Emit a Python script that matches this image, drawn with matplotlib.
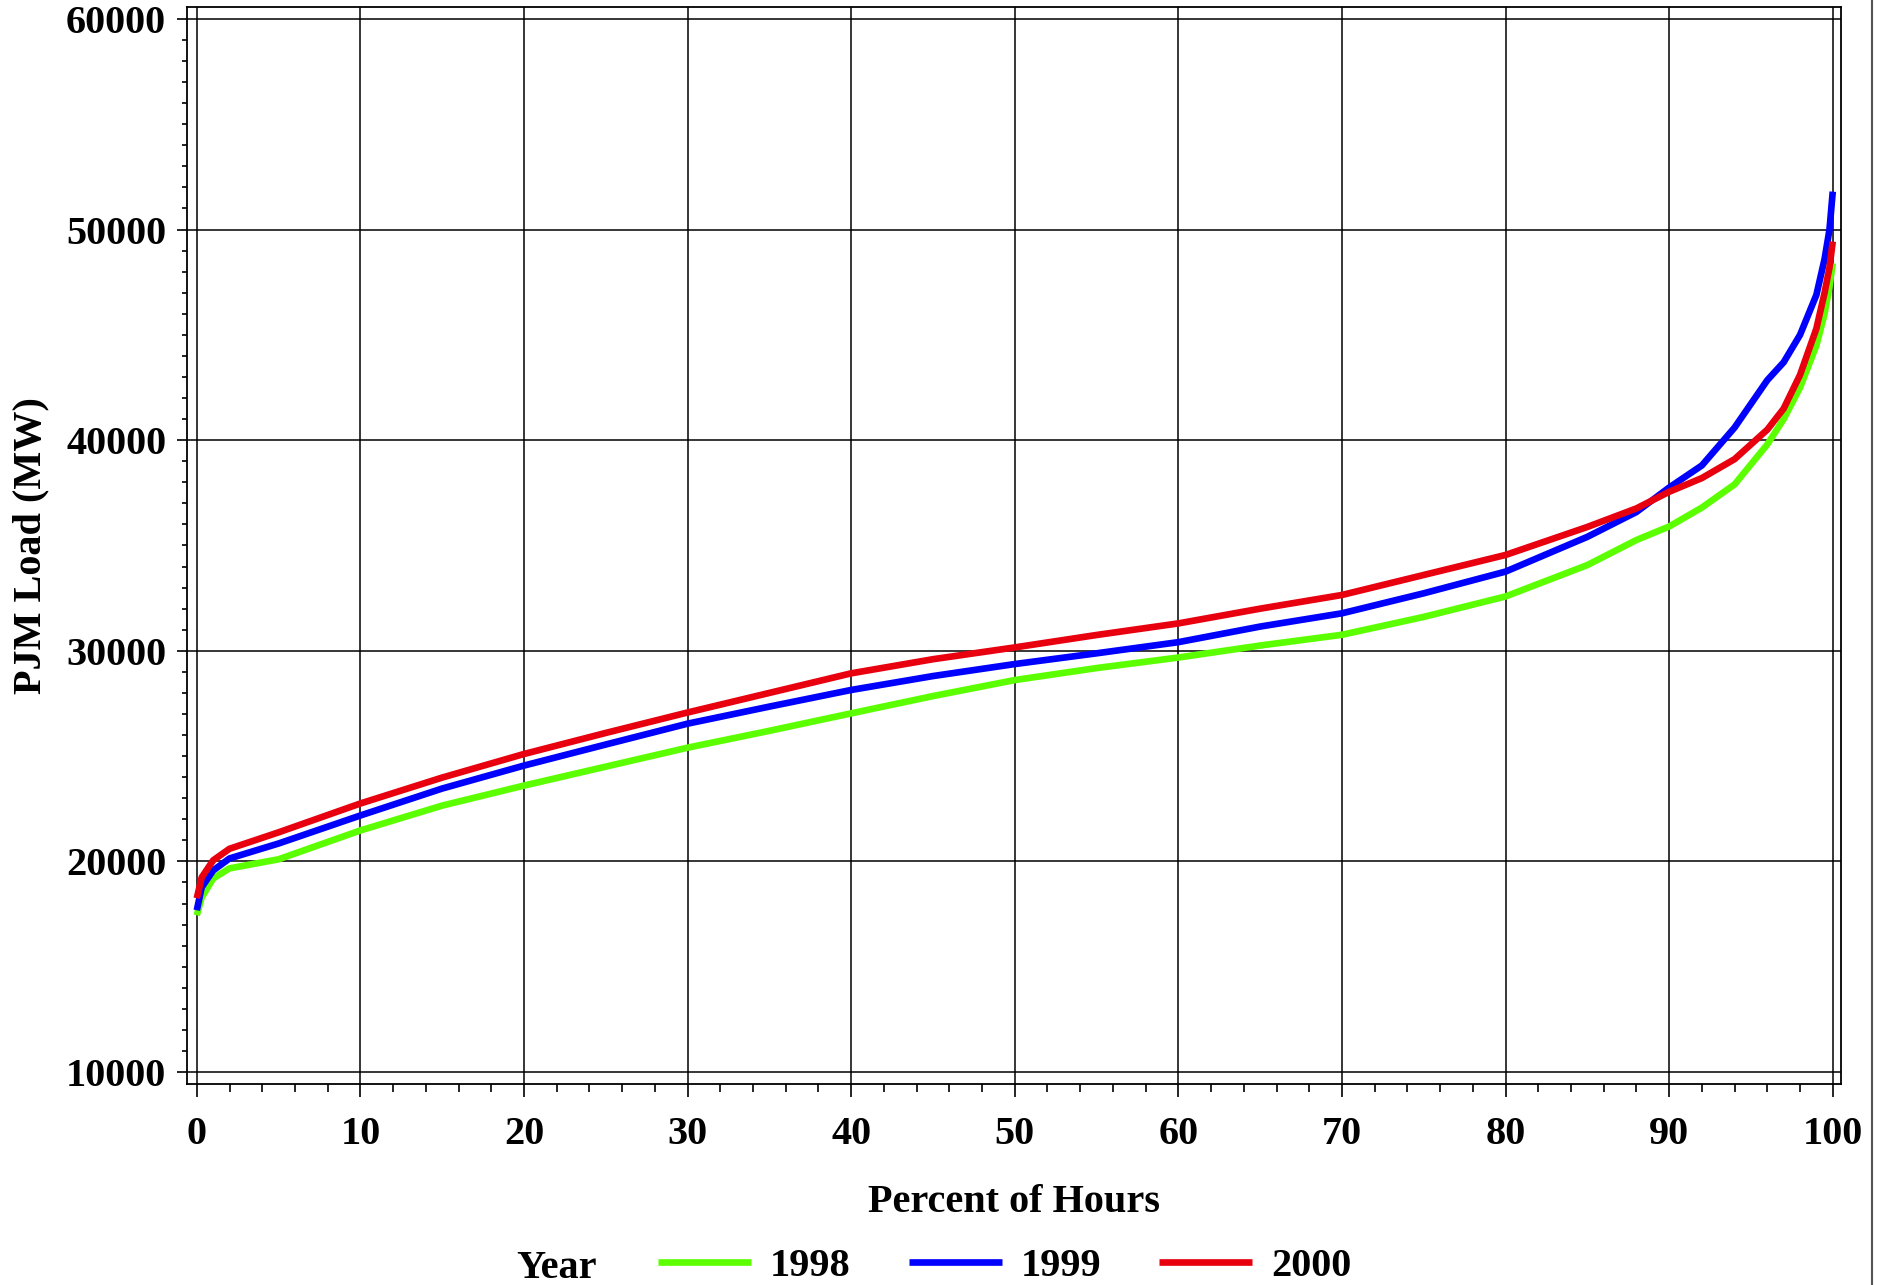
import numpy as np
import matplotlib
matplotlib.use("Agg")
import matplotlib.pyplot as plt
from matplotlib.lines import Line2D

# --- Data ---
pct = [0, 0.3, 1, 2, 5, 10, 15, 20, 25, 30, 35, 40, 45, 50, 55, 60, 65, 70,
       75, 80, 85, 88, 90, 92, 94, 96, 97, 98, 99, 99.5, 99.8, 100]

load_1998 = [17440, 18290, 19190, 19670, 20100, 21470, 22650, 23600, 24500,
             25400, 26200, 27030, 27850, 28610, 29180, 29680, 30250, 30760,
             31610, 32580, 34070, 35260, 35900, 36800, 37900, 39800, 41000,
             42500, 44500, 46000, 47300, 48400]
load_1999 = [17680, 18770, 19570, 20140, 20850, 22180, 23460, 24550, 25550,
             26540, 27350, 28140, 28800, 29370, 29880, 30410, 31150, 31780,
             32730, 33760, 35410, 36590, 37750, 38800, 40600, 42850, 43700,
             45000, 46900, 48600, 50000, 51800]
load_2000 = [18250, 19240, 20050, 20600, 21380, 22750, 23980, 25100, 26100,
             27070, 28000, 28930, 29600, 30160, 30750, 31300, 32000, 32650,
             33600, 34550, 35880, 36760, 37550, 38200, 39100, 40500, 41500,
             43100, 45300, 47000, 48200, 49430]

years = ["1998", "1999", "2000"]
colors = ["#5cff00", "#0000ff", "#e8000f"]

x_ticks = np.arange(0, 101, 10)
y_ticks = np.arange(10000, 60001, 10000)

# --- Stil ---
plt.rcParams["font.family"] = ["Liberation Serif", "DejaVu Serif"]
plt.rcParams["font.weight"] = "bold"
fs = 29

fig = plt.figure(figsize=(18.81, 12.85), dpi=100)
ax = fig.add_axes([0.0994, 0.1564, 0.8793, 0.8382])

for y, c, yr in zip([load_1998, load_1999, load_2000], colors, years):
    ax.plot(pct, y, color=c, lw=4.8, label=yr, solid_capstyle="butt")

ax.set_xlim(-0.6, 100.5)
ax.set_ylim(9430, 60570)
ax.set_xticks(x_ticks)
ax.set_yticks(y_ticks)
ax.set_xticks(np.arange(0, 101, 2), minor=True)
ax.set_yticks(np.arange(10000, 60001, 1000), minor=True)
ax.tick_params(axis="both", which="major", labelsize=fs, width=1.2, color="black")
ax.tick_params(axis="x", which="major", length=9, pad=14)
ax.tick_params(axis="y", which="major", length=7, pad=8)
ax.tick_params(axis="x", which="minor", length=6, width=1.2)
ax.tick_params(axis="y", which="minor", length=3.6, width=1.2)
for lab in ax.get_xticklabels() + ax.get_yticklabels():
    lab.set_fontweight("bold")

ax.grid(True, which="major", color="black", lw=1.1)
ax.set_axisbelow(True)
for sp in ax.spines.values():
    sp.set_linewidth(1.3)

ax.set_xlabel("Percent of Hours", fontsize=fs, fontweight="bold", va="top")
ax.xaxis.set_label_coords(0.5, -0.093)
ax.set_ylabel("PJM Load (MW)", fontsize=fs, fontweight="bold")
ax.yaxis.set_label_coords(-0.083, 0.5)

# --- Legend ---
fig.text(516 / 1881, 1 - 1268 / 1285, "Year", fontsize=fs, fontweight="bold",
         ha="left", va="center")
fig.legend(loc="center left", bbox_to_anchor=(658 / 1881, 1 - 1266 / 1285),
           ncol=3, frameon=False, fontsize=fs, handlelength=2.31,
           handletextpad=0.47, columnspacing=1.44, borderpad=0,
           borderaxespad=0)

# right border line
fig.add_artist(Line2D([0.9952, 0.9952], [0, 1], transform=fig.transFigure,
                      color="#555555", lw=1.5))

fig.savefig("out.png", dpi=100)
